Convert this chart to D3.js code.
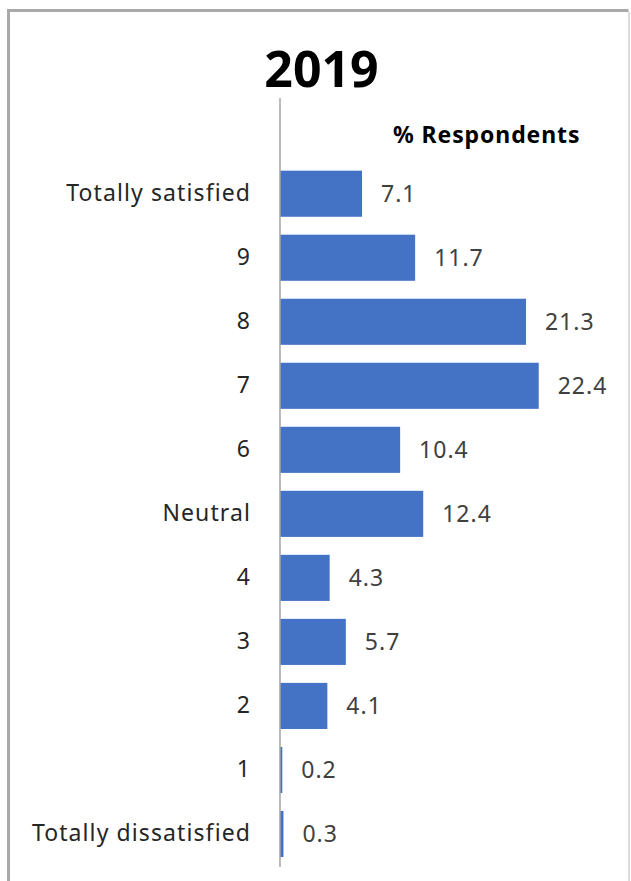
<!DOCTYPE html>
<html>
<head>
<meta charset="utf-8">
<script src="https://cdn.jsdelivr.net/npm/d3@7"></script>
<style>
  html, body { margin: 0; padding: 0; background: #fff; }
  svg { display: block; }
</style>
</head>
<body>
<script>
const categories = ["Totally satisfied", "9", "8", "7", "6", "Neutral", "4", "3", "2", "1", "Totally dissatisfied"];
const values = [7.1, 11.7, 21.3, 22.4, 10.4, 12.4, 4.3, 5.7, 4.1, 0.2, 0.3];
const title = "2019";
const seriesName = "% Respondents";

const W = 631, H = 881;
const svg = d3.select("body").append("svg").attr("width", W).attr("height", H);
const font = "'Noto Sans', 'Open Sans', sans-serif";

// frame
svg.append("path").attr("d", `M8.5,${H + 5} L8.5,10.5 L628.5,10.5`)
  .attr("fill", "none").attr("stroke", "#a9a9a9").attr("stroke-width", 3);
svg.append("line").attr("x1", 629).attr("x2", 629).attr("y1", 12).attr("y2", H)
  .attr("stroke", "#dcdcdc").attr("stroke-width", 2);

const x = d3.scaleLinear().domain([0, 25]).range([280, 280 + 25 * 11.55]);
const y = d3.scaleBand().domain(categories).range([161.7, 866])
  .paddingInner(0.28).paddingOuter(0.14);

// bars
svg.append("g").selectAll("rect").data(values).join("rect")
  .attr("x", x(0))
  .attr("y", (d, i) => y(categories[i]))
  .attr("width", d => x(d) - x(0))
  .attr("height", y.bandwidth())
  .attr("fill", "#4472C4");

// axis line
svg.append("line").attr("x1", x(0)).attr("x2", x(0)).attr("y1", 98).attr("y2", 867)
  .attr("stroke", "#a6a6a6").attr("stroke-width", 1.5);

// category labels
const yAxis = d3.axisLeft(y).tickSize(0).tickPadding(29);
const gy = svg.append("g").attr("transform", `translate(${x(0)},0)`).call(yAxis);
gy.select(".domain").remove();
gy.selectAll("text").attr("font-family", font).attr("font-size", 23)
  .attr("letter-spacing", 1.1).attr("fill", "#262626");

// value labels
svg.append("g").selectAll("text").data(values).join("text")
  .attr("x", d => x(d) + 19)
  .attr("y", (d, i) => y(categories[i]) + y.bandwidth() / 2)
  .attr("dy", "0.35em")
  .attr("font-family", font).attr("font-size", 23)
  .attr("letter-spacing", 1).attr("fill", "#404040")
  .text(d => d3.format(".1f")(d));

// title
svg.append("text").attr("x", 321.5).attr("y", 86.5).attr("text-anchor", "middle")
  .attr("font-family", font).attr("font-weight", "bold").attr("font-size", 50)
  .attr("fill", "#000").text(title);

svg.append("text").attr("x", 393).attr("y", 143.3)
  .attr("font-family", font).attr("font-weight", "bold").attr("font-size", 23)
  .attr("letter-spacing", 0.9).attr("fill", "#000").text(seriesName);
</script>
</body>
</html>
